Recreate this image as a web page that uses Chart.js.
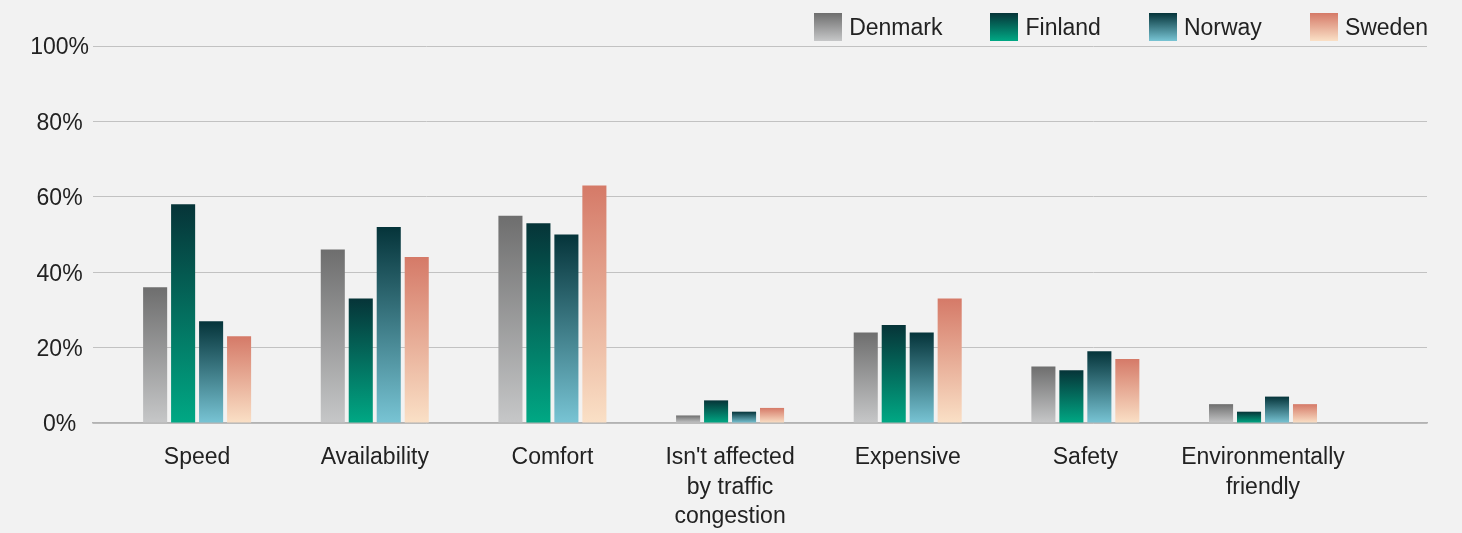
<!DOCTYPE html>
<html>
<head>
<meta charset="utf-8">
<script src="https://cdn.jsdelivr.net/npm/chart.js@4/dist/chart.umd.min.js"></script>
<style>
  body { margin: 0; background: #f2f2f2; }
  #wrap { position: relative; width: 1462px; height: 533px; }
  #legend {
    position: absolute; top: 13px; right: 34px;
    display: flex; align-items: center;
    font-family: 'Liberation Sans', Arial, sans-serif; font-size: 23px; color: #222;
  }
  .item { display: flex; align-items: center; margin-left: 48px; }
  .item:first-child { margin-left: 0; }
  .box { width: 28px; height: 28px; margin-right: 7px; }
</style>
</head>
<body>
<div id="wrap">
  <canvas id="chart" width="1462" height="533"></canvas>
  <div id="legend"></div>
</div>
<script>
const categories = [
  'Speed', 'Availability', 'Comfort',
  ["Isn't affected", 'by traffic', 'congestion'],
  'Expensive', 'Safety',
  ['Environmentally', 'friendly']
];
const countries = ['Denmark', 'Finland', 'Norway', 'Sweden'];

// share of respondents, %
const denmark = [36, 46, 55, 2, 24, 15, 5];
const finland = [58, 33, 53, 6, 26, 14, 3];
const norway  = [27, 52, 50, 3, 24, 19, 7];
const sweden  = [23, 44, 63, 4, 33, 17, 5];

const yTicks = [0, 20, 40, 60, 80, 100];

// gradient colours, top -> bottom
const colors = [
  ['#6e6e6e', '#c6c7c8'],
  ['#063438', '#00a884'],
  ['#05343a', '#78c4d4'],
  ['#d57a68', '#fae0c6']
];

Chart.defaults.font.family = "'Liberation Sans', Arial, sans-serif";
Chart.defaults.font.size = 23;
Chart.defaults.color = '#222';

function barGradient(top, bottom) {
  return (c) => {
    const { ctx, chartArea, scales } = c.chart;
    if (!chartArea || !c.raw) return bottom;
    const y0 = scales.y.getPixelForValue(0);
    const y1 = scales.y.getPixelForValue(c.raw.y);
    if (!isFinite(y0) || !isFinite(y1) || y0 === y1) return bottom;
    const g = ctx.createLinearGradient(0, y1, 0, y0);
    g.addColorStop(0, top);
    g.addColorStop(1, bottom);
    return g;
  };
}

const series = [denmark, finland, norway, sweden];
const datasets = series.map((vals, i) => ({
  label: countries[i],
  data: vals.map((v, j) => ({ x: j, y: v })),
  backgroundColor: barGradient(colors[i][0], colors[i][1]),
  borderWidth: 0,
  categoryPercentage: 0.63,
  barPercentage: 0.86
}));

new Chart(document.getElementById('chart'), {
  type: 'bar',
  data: { datasets },
  options: {
    responsive: false,
    animation: false,
    layout: { padding: { top: 46, right: 35, bottom: 0, left: 0 } },
    plugins: { legend: { display: false }, tooltip: { enabled: false } },
    scales: {
      x: {
        type: 'linear',
        bounds: 'data',
        min: -0.586,
        max: 6.923,
        offset: false,
        grid: { display: false },
        border: { display: true, color: '#b3b3b3', width: 1.5 },
        // one tick per category, at its index
        afterBuildTicks: (s) => { s.ticks = categories.map((c, i) => ({ value: i })); },
        afterFit: (s) => { s.height = 110; },
        ticks: {
          autoSkip: false,
          maxRotation: 0,
          padding: 12,
          font: { lineHeight: 1.28 },
          callback: (v) => categories[v] || ''
        }
      },
      y: {
        min: yTicks[0],
        max: yTicks[yTicks.length - 1],
        grid: { color: '#c2c2c2', lineWidth: 1, drawTicks: false },
        border: { display: false },
        afterFit: (s) => { s.width = 93; },
        ticks: {
          stepSize: 20,
          padding: 4,
          labelOffset: 2,
          crossAlign: 'center',
          callback: (v) => v + '%'
        }
      }
    }
  }
});

// html legend with gradient swatches
const legend = document.getElementById('legend');
countries.forEach((name, i) => {
  const item = document.createElement('div');
  item.className = 'item';
  const box = document.createElement('span');
  box.className = 'box';
  box.style.background = 'linear-gradient(to bottom, ' + colors[i][0] + ', ' + colors[i][1] + ')';
  const txt = document.createElement('span');
  txt.textContent = name;
  item.appendChild(box);
  item.appendChild(txt);
  legend.appendChild(item);
});
</script>
</body>
</html>
